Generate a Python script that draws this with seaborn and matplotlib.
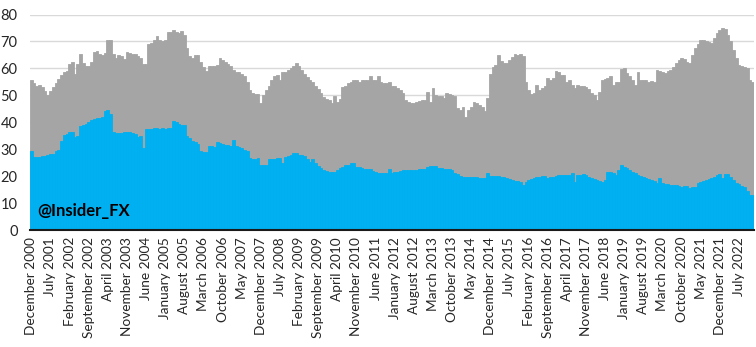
import matplotlib
matplotlib.use("Agg")
import matplotlib.pyplot as plt
import seaborn as sns
import pandas as pd

# ---- data ----
total = [
    55.8, 54.5, 53.5, 54.0, 53.0, 51.5, 50.0, 51.5, 53.0, 54.5,
    56.0, 57.5, 58.5, 59.0, 61.5, 62.2, 58.0, 61.5, 65.5, 62.0,
    60.7, 61.0, 62.5, 66.0, 66.3, 65.5, 65.0, 65.8, 70.6, 70.6,
    65.5, 64.0, 65.0, 64.5, 63.5, 66.0, 65.8, 65.5, 65.2, 64.5,
    64.0, 61.8, 61.8, 69.0, 69.5, 70.5, 72.0, 70.5, 70.0, 70.5,
    73.5, 73.5, 74.3, 73.5, 73.0, 74.0, 72.5, 67.5, 64.5, 64.0,
    65.0, 65.0, 62.5, 60.5, 59.0, 60.7, 60.7, 61.0, 61.3, 63.8,
    63.0, 62.5, 61.5, 61.0, 59.5, 58.5, 58.5, 58.0, 57.0, 55.0,
    52.0, 51.0, 50.5, 50.5, 47.0, 50.0, 52.0, 53.5, 55.5, 57.2,
    57.5, 55.5, 58.5, 58.8, 59.5, 60.2, 61.0, 62.0, 60.7, 59.5,
    58.0, 56.8, 55.5, 55.0, 53.5, 52.5, 51.0, 49.5, 48.5, 48.3,
    47.3, 49.6, 47.7, 48.5, 53.0, 53.5, 54.5, 55.0, 55.5, 55.7,
    55.0, 55.7, 55.8, 55.5, 57.0, 55.5, 55.7, 57.0, 54.8, 54.5,
    54.5, 55.0, 53.5, 53.5, 52.7, 52.0, 51.0, 48.3, 47.5, 47.1,
    47.0, 47.7, 47.8, 48.3, 48.3, 51.4, 47.7, 52.7, 50.2, 49.8,
    49.6, 49.0, 50.8, 50.5, 50.2, 49.8, 45.2, 44.6, 45.8, 42.1,
    44.5, 45.8, 47.7, 47.2, 46.5, 45.8, 44.0, 48.9, 58.0, 60.5,
    61.3, 65.0, 62.6, 62.0, 62.0, 63.2, 64.4, 65.2, 65.0, 65.3,
    64.5, 55.0, 52.0, 50.5, 51.0, 53.8, 52.0, 52.8, 53.5, 56.4,
    55.5, 56.4, 58.9, 58.5, 57.6, 57.5, 55.1, 55.8, 54.0, 52.7,
    53.9, 53.5, 53.3, 53.0, 52.5, 50.8, 50.0, 48.3, 51.4, 55.8,
    56.0, 56.4, 57.0, 53.9, 55.1, 55.0, 59.7, 60.0, 58.2, 57.0,
    55.5, 53.9, 58.8, 55.5, 55.7, 55.5, 55.1, 55.3, 55.1, 59.5,
    59.0, 58.8, 58.2, 58.9, 59.5, 60.5, 62.0, 63.0, 63.8, 63.5,
    62.5, 62.0, 65.0, 67.5, 69.0, 70.5, 70.6, 70.0, 69.8, 69.4,
    71.3, 73.0, 74.3, 75.0, 74.5, 72.5, 70.0, 66.9, 63.8, 61.3,
    60.7, 60.5, 60.0, 55.8, 55.0,
]

blue = [
    29.2, 27.0, 27.2, 27.0, 27.5, 27.3, 27.7, 28.3, 28.3, 29.3,
    29.6, 33.0, 35.3, 35.8, 36.3, 36.5, 34.5, 35.0, 38.5, 38.8,
    39.5, 40.0, 40.7, 41.2, 41.5, 41.5, 41.8, 44.0, 44.6, 43.0,
    36.5, 36.0, 36.0, 36.0, 36.2, 36.3, 36.2, 36.0, 35.8, 34.5,
    35.0, 30.3, 37.5, 37.5, 37.5, 37.8, 37.8, 37.5, 37.8, 37.6,
    37.8, 38.0, 40.3, 40.0, 39.5, 39.0, 38.8, 34.8, 34.0, 33.2,
    32.5, 31.8, 29.2, 28.8, 28.8, 31.2, 31.0, 30.7, 32.5, 32.2,
    31.8, 31.6, 31.5, 31.2, 33.5, 31.0, 30.8, 30.5, 29.8, 29.3,
    26.8, 26.5, 26.5, 26.8, 24.2, 24.2, 24.3, 26.3, 26.2, 26.5,
    26.6, 26.6, 24.8, 27.2, 27.3, 27.8, 28.5, 28.4, 28.0, 27.8,
    27.3, 26.5, 25.4, 26.2, 24.8, 23.6, 23.0, 22.3, 21.8, 21.7,
    21.7, 21.7, 22.2, 22.9, 23.5, 24.0, 24.3, 24.7, 24.8, 23.5,
    23.4, 23.0, 22.8, 22.7, 22.5, 21.8, 21.5, 21.3, 21.2, 21.1,
    21.2, 22.5, 21.2, 21.5, 21.5, 22.0, 22.1, 22.2, 22.3, 22.2,
    22.2, 22.3, 22.6, 22.5, 22.7, 23.5, 23.6, 23.8, 23.6, 23.2,
    22.9, 22.8, 22.6, 22.5, 22.3, 21.2, 20.8, 19.9, 19.8, 19.8,
    19.8, 19.7, 19.8, 19.5, 19.2, 19.3, 19.4, 21.1, 20.0, 20.0,
    20.0, 19.9, 19.8, 19.5, 19.2, 18.8, 18.6, 18.3, 18.2, 17.9,
    16.7, 18.0, 18.5, 18.8, 19.2, 19.5, 19.8, 20.0, 19.9, 19.2,
    19.6, 19.8, 20.1, 20.3, 20.4, 20.5, 20.5, 20.6, 21.1, 18.0,
    20.4, 20.6, 20.8, 20.4, 19.8, 19.2, 18.8, 18.6, 18.2, 18.0,
    18.4, 21.7, 21.4, 21.1, 20.4, 22.3, 24.2, 23.5, 23.0, 22.3,
    21.6, 21.1, 20.5, 20.0, 19.8, 19.2, 18.8, 18.5, 18.2, 17.5,
    19.2, 17.5, 17.2, 16.9, 16.7, 16.7, 16.6, 16.5, 16.1, 16.3,
    16.4, 15.5, 15.8, 16.1, 17.3, 17.8, 18.2, 18.6, 18.8, 19.2,
    19.8, 20.4, 20.8, 19.2, 20.8, 20.8, 19.8, 18.6, 17.6, 17.0,
    16.4, 16.0, 14.3, 13.0, 13.0,
]

tick_labels = [
    "December 2000", "July 2001", "February 2002", "September 2002",
    "April 2003", "November 2003", "June 2004", "January 2005",
    "August 2005", "March 2006", "October 2006", "May 2007",
    "December 2007", "July 2008", "February 2009", "September 2009",
    "April 2010", "November 2010", "June 2011", "January 2012",
    "August 2012", "March 2013", "October 2013", "May 2014",
    "December 2014", "July 2015", "February 2016", "September 2016",
    "April 2017", "November 2017", "June 2018", "January 2019",
    "August 2019", "March 2020", "October 2020", "May 2021",
    "December 2021", "July 2022",
]
tick_step = 7
watermark = "@Insider_FX"

months = pd.date_range("2000-12-01", periods=len(total), freq="MS").strftime("%Y-%m")
df = pd.DataFrame({"month": months, "total": total, "blue": blue})

# ---- style ----
sns.set_theme(style="white")
plt.rcParams["font.family"] = ["Lato", "DejaVu Sans"]

GRAY = "#A5A5A5"
BLUE = "#00B0F0"

fig = plt.figure(figsize=(7.56, 3.47), dpi=100)
ax = fig.add_axes([30 / 756, 1 - 230 / 347, 724 / 756, (230 - 14.5) / 347])

sns.barplot(data=df, x="month", y="total", color=GRAY, saturation=1,
            width=1.0, linewidth=0.6, edgecolor=GRAY, ax=ax, zorder=2)
sns.barplot(data=df, x="month", y="blue", color=BLUE, saturation=1,
            width=1.0, linewidth=0.6, edgecolor=BLUE, ax=ax, zorder=3)

ax.set_xlim(-0.5, len(total) - 0.5)
ax.set_ylim(0, 80)
ax.set_yticks(range(0, 81, 10))
ax.set_xticks(range(0, len(total), tick_step))
ax.set_xticklabels(tick_labels, rotation=90, fontsize=9.8, color="#262626")
ax.tick_params(axis="y", labelsize=10.5, labelcolor="#262626", length=0, pad=9)
ax.tick_params(axis="x", length=0, pad=5)
ax.set_xlabel("")
ax.set_ylabel("")

ax.yaxis.grid(True, color="#D9D9D9", linewidth=1, zorder=0)
ax.set_axisbelow(True)
for s in ["top", "right", "left"]:
    ax.spines[s].set_visible(False)
ax.spines["bottom"].set_color("#1a1a1a")
ax.spines["bottom"].set_linewidth(1.5)
ax.spines["bottom"].set_zorder(5)

fig.text(37 / 756, 1 - 211 / 347, watermark, fontsize=12, fontweight="bold",
         color="black", va="center", ha="left")

fig.savefig("out.png", dpi=100)
